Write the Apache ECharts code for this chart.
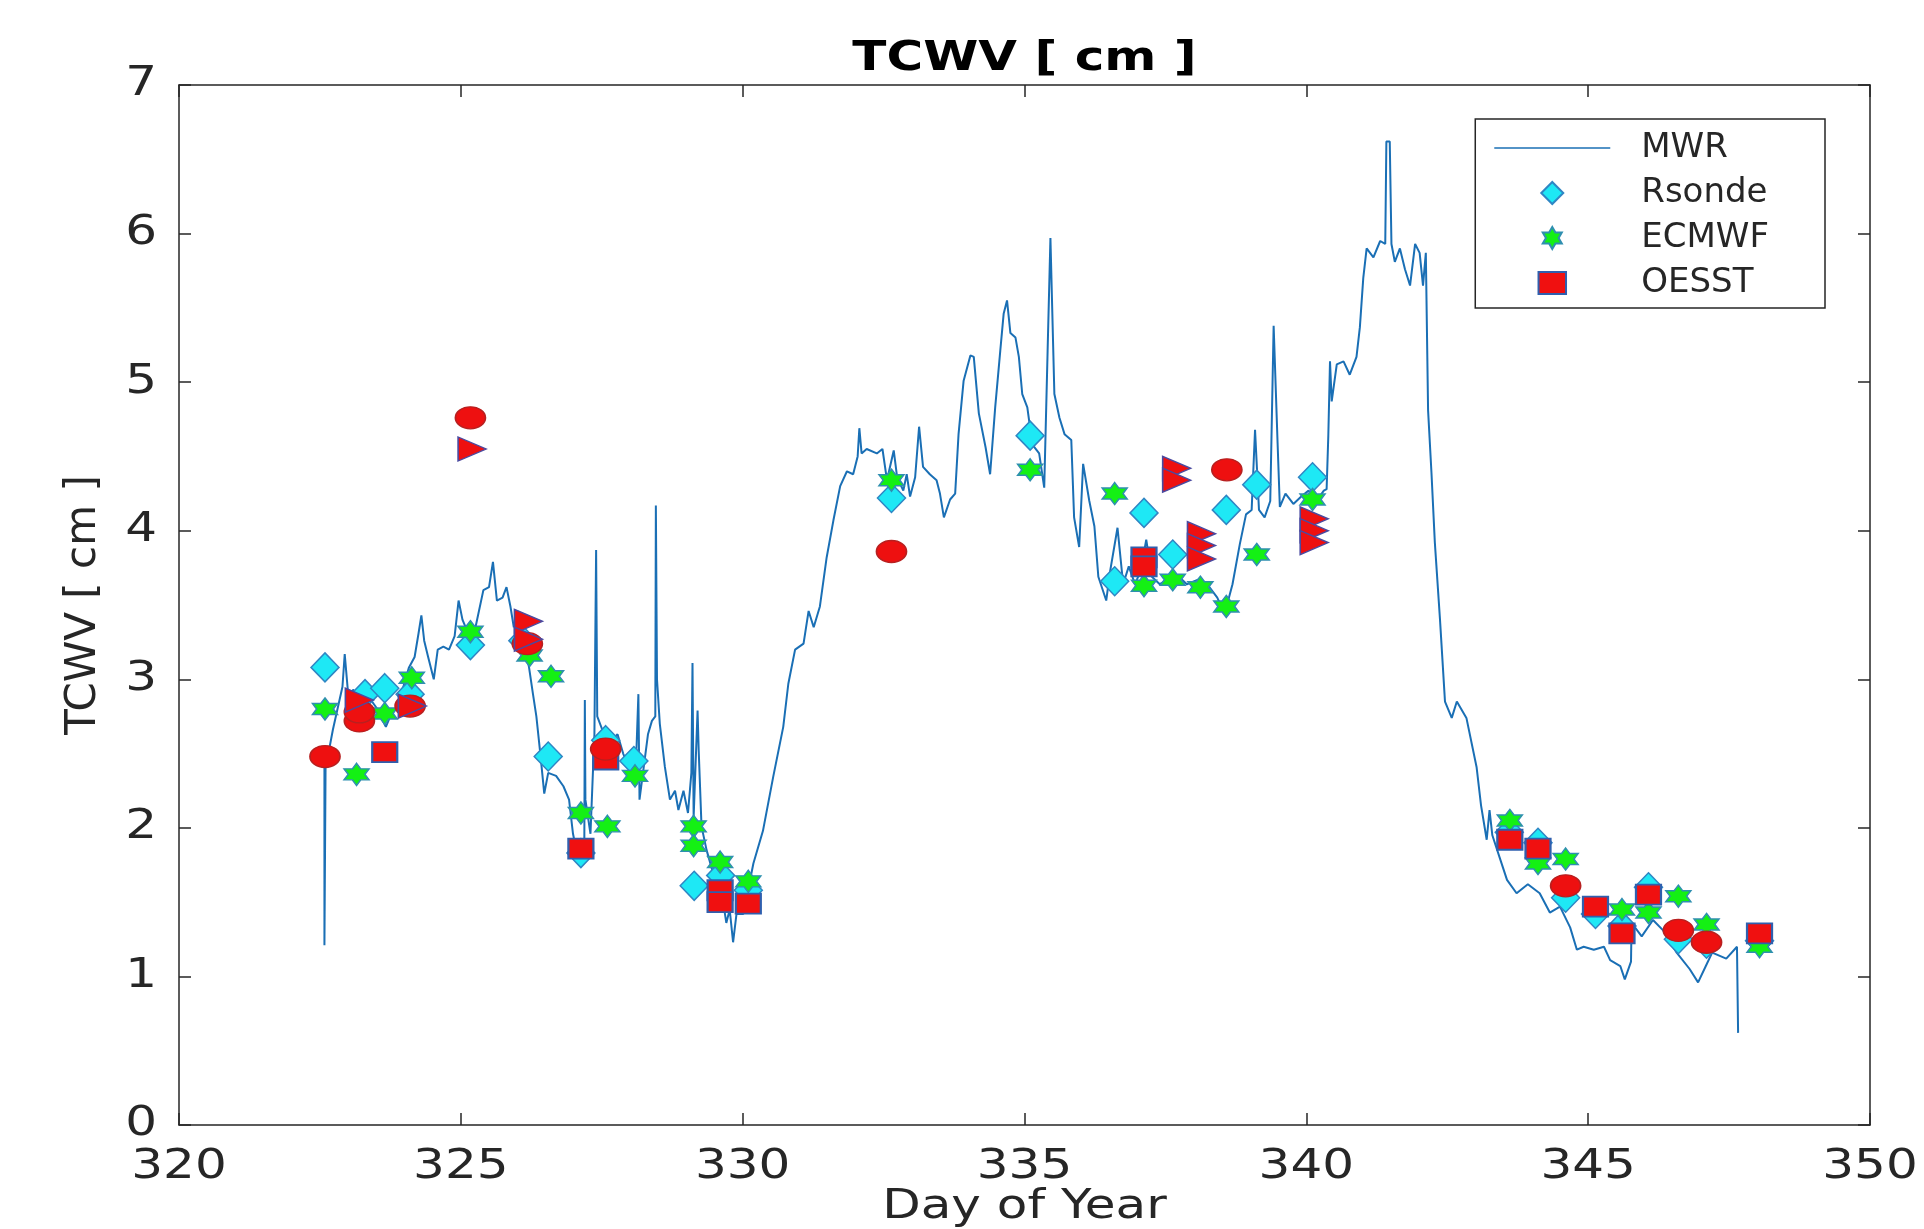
<!DOCTYPE html>
<html>
<head>
<meta charset="utf-8">
<title>TCWV</title>
<script src="https://cdn.jsdelivr.net/npm/echarts@6/dist/echarts.min.js"></script>
<style>
  html, body { margin: 0; padding: 0; background: #fff; }
  #chart { width: 1924px; height: 1229px; }
</style>
</head>
<body>
<div id="chart"></div>
<script>
// TCWV time series

const X_TICKS = [320, 325, 330, 335, 340, 345, 350];
const Y_TICKS = [0, 1, 2, 3, 4, 5, 6, 7];

// MWR [day, cm]
const MWR = [
  [322.58,2.45],[322.58,1.21],[322.60,2.40],[322.73,2.66],[322.90,2.95],[322.94,3.17],[323.01,2.86],
  [323.09,2.93],[323.23,2.86],[323.33,2.90],[323.50,2.81],[323.67,2.68],[323.77,2.77],[323.87,2.81],
  [323.98,2.95],[324.08,3.08],[324.18,3.15],[324.25,3.31],[324.30,3.43],[324.35,3.26],[324.42,3.15],
  [324.52,3.00],[324.59,3.20],[324.69,3.22],[324.79,3.20],[324.89,3.29],[324.96,3.53],[325.03,3.40],
  [325.13,3.31],[325.20,3.22],[325.26,3.35],[325.40,3.60],[325.50,3.62],[325.57,3.79],[325.64,3.53],
  [325.74,3.55],[325.81,3.62],[325.88,3.49],[325.94,3.35],[326.01,3.46],[326.11,3.28],[326.21,3.08],
  [326.28,2.90],[326.34,2.75],[326.41,2.50],[326.48,2.23],[326.55,2.37],[326.69,2.35],[326.82,2.28],
  [326.92,2.19],[326.99,1.96],[327.06,1.83],[327.13,1.78],[327.19,1.80],[327.20,2.86],[327.21,2.19],
  [327.30,1.96],[327.37,2.63],[327.40,3.87],[327.42,2.75],[327.54,2.63],[327.68,2.59],[327.78,2.63],
  [327.88,2.50],[327.98,2.41],[328.10,2.35],[328.15,2.90],[328.17,2.19],[328.32,2.63],[328.39,2.72],
  [328.45,2.75],[328.46,4.17],[328.48,3.00],[328.53,2.70],[328.62,2.41],[328.71,2.19],[328.80,2.25],
  [328.86,2.12],[328.95,2.25],[329.03,2.10],[329.09,2.37],[329.11,3.11],[329.13,2.07],[329.20,2.79],
  [329.22,2.52],[329.27,2.01],[329.36,1.85],[329.48,1.69],[329.63,1.56],[329.71,1.36],[329.77,1.45],
  [329.83,1.23],[329.89,1.42],[330.01,1.42],[330.19,1.76],[330.36,1.98],[330.54,2.34],[330.72,2.68],
  [330.81,2.97],[330.93,3.20],[331.08,3.24],[331.17,3.46],[331.26,3.35],[331.37,3.49],[331.49,3.82],
  [331.61,4.07],[331.73,4.30],[331.85,4.40],[331.96,4.38],[332.04,4.50],[332.07,4.69],[332.11,4.52],
  [332.20,4.55],[332.38,4.52],[332.48,4.55],[332.56,4.34],[332.68,4.54],[332.74,4.36],[332.85,4.27],
  [332.91,4.38],[332.97,4.23],[333.06,4.36],[333.13,4.70],[333.20,4.43],[333.32,4.38],[333.44,4.34],
  [333.50,4.25],[333.57,4.09],[333.68,4.21],[333.77,4.25],[333.83,4.65],[333.92,5.01],[334.04,5.18],
  [334.10,5.17],[334.19,4.79],[334.31,4.56],[334.39,4.38],[334.48,4.83],[334.57,5.21],[334.63,5.46],
  [334.69,5.55],[334.75,5.33],[334.84,5.30],[334.90,5.17],[334.96,4.92],[335.05,4.83],[335.14,4.58],
  [335.26,4.52],[335.35,4.29],[335.41,5.21],[335.46,5.97],[335.53,4.92],[335.62,4.76],[335.71,4.65],
  [335.83,4.61],[335.88,4.09],[335.97,3.89],[336.04,4.45],[336.15,4.20],[336.24,4.03],[336.31,3.69],
  [336.45,3.53],[336.52,3.73],[336.65,4.02],[336.75,3.64],[336.85,3.76],[336.96,3.64],[337.06,3.73],
  [337.16,3.94],[337.26,3.69],[337.40,3.64],[337.54,3.67],[337.74,3.69],[337.88,3.64],[338.08,3.67],
  [338.28,3.62],[338.42,3.55],[338.55,3.44],[338.69,3.64],[338.82,3.91],[338.93,4.11],[339.03,4.14],
  [339.09,4.68],[339.16,4.14],[339.26,4.09],[339.36,4.20],[339.42,5.38],[339.49,4.59],[339.53,4.16],
  [339.63,4.25],[339.77,4.18],[339.91,4.23],[340.04,4.27],[340.18,4.20],[340.31,4.27],[340.36,4.28],
  [340.39,4.64],[340.42,5.14],[340.45,4.87],[340.54,5.12],[340.66,5.14],[340.77,5.05],[340.89,5.17],
  [340.95,5.37],[341.01,5.70],[341.07,5.90],[341.19,5.84],[341.31,5.95],[341.40,5.93],[341.42,6.62],
  [341.48,6.62],[341.51,5.93],[341.57,5.81],[341.66,5.90],[341.75,5.76],[341.84,5.65],[341.93,5.93],
  [342.01,5.87],[342.07,5.65],[342.12,5.87],[342.16,4.81],[342.22,4.39],[342.28,3.92],[342.37,3.41],
  [342.46,2.85],[342.58,2.74],[342.67,2.85],[342.84,2.74],[343.02,2.41],[343.10,2.15],[343.20,1.92],
  [343.25,2.12],[343.30,1.95],[343.43,1.80],[343.56,1.65],[343.73,1.56],[343.93,1.62],[344.14,1.56],
  [344.32,1.43],[344.50,1.47],[344.68,1.33],[344.80,1.18],[344.92,1.20],[345.10,1.18],[345.28,1.20],
  [345.39,1.11],[345.57,1.07],[345.65,0.98],[345.76,1.10],[345.77,1.36],[345.95,1.27],[346.15,1.38],
  [346.33,1.31],[346.57,1.16],[346.80,1.05],[346.95,0.96],[347.10,1.08],[347.20,1.16],[347.45,1.12],
  [347.64,1.20],[347.66,0.62]
];

const RSONDE = [
  [322.59,3.08],[323.30,2.90],[323.65,2.94],[324.10,2.90],[325.17,3.23],[326.10,3.26],[326.55,2.48],
  [327.13,1.83],[327.57,2.59],[328.07,2.45],[329.14,1.61],[329.61,1.68],[330.10,1.58],[332.64,4.22],
  [335.10,4.64],[336.60,3.66],[337.12,4.12],[337.63,3.84],[338.58,4.14],[339.12,4.31],[340.11,4.36],
  [343.60,1.97],[344.11,1.90],[344.60,1.53],[345.13,1.42],[345.60,1.34],[346.07,1.60],[346.60,1.25],
  [347.10,1.22],[348.04,1.24]
];

const ECMWF = [
  [322.59,2.80],[323.15,2.36],[323.65,2.77],[324.13,3.01],[325.17,3.32],[326.22,3.16],[326.60,3.02],
  [327.13,2.10],[327.60,2.01],[328.09,2.35],[329.13,2.01],[329.13,1.88],[329.60,1.77],[330.10,1.64],
  [332.64,4.34],[335.10,4.41],[336.60,4.25],[337.12,3.63],[337.63,3.67],[338.12,3.62],[338.58,3.49],
  [339.12,3.84],[340.11,4.21],[343.61,2.05],[344.11,1.76],[344.60,1.79],[345.60,1.45],[346.07,1.43],
  [346.60,1.54],[347.10,1.35],[348.04,1.20]
];

const OESST = [
  [323.65,2.51],[327.13,1.86],[327.57,2.46],[329.60,1.58],[329.60,1.50],[330.10,1.49],[337.12,3.82],
  [337.12,3.76],[343.61,1.92],[344.11,1.86],[345.13,1.47],[345.60,1.29],[346.07,1.55],[348.04,1.29]
];

// unlabelled red markers
const CIRCLES = [
  [322.59,2.48],[323.20,2.72],[323.20,2.78],[324.10,2.82],[325.17,4.76],[326.18,3.24],[327.57,2.53],
  [332.64,3.86],[338.59,4.41],[344.60,1.61],[346.60,1.31],[347.10,1.23]
];

const TRIANGLES = [
  [323.20,2.86],[324.14,2.82],[325.20,4.55],[326.20,3.39],[326.20,3.27],[337.70,4.42],[337.70,4.34],
  [338.14,3.98],[338.14,3.90],[338.14,3.81],[340.14,4.08],[340.14,4.00],[340.14,3.92]
];

const INK = '#262626';
const FONT = '"DejaVu Sans", sans-serif';
const STRETCH = 1.25; // the source figure is stretched sideways
const STAR = 'path://M50 0 L64.43 25 L93.3 25 L78.87 50 L93.3 75 L64.43 75 L50 100 L35.57 75 L6.7 75 L21.13 50 L6.7 25 L35.57 25 Z';
const DIAMOND = 'path://M50 0 L100 50 L50 100 L0 50 Z';
const SQUARE = 'path://M0 0 H125 V100 H0 Z';
const TRI_RIGHT = 'path://M0 0 L100 50 L0 100 Z';
const LINE_ICON = 'path://M0 0 H200 V3 H0 Z';

function frameAxis(base, extra) {
  return Object.assign({
    type: 'value',
    axisLine: { show: true, onZero: false, lineStyle: { color: INK, width: 1.5 } },
    axisTick: { show: true, inside: true, length: 12, lineStyle: { color: INK, width: 1.5 } },
    splitLine: { show: false },
    axisLabel: { show: false },
  }, base, extra);
}

const xBase = { min: X_TICKS[0], max: X_TICKS[X_TICKS.length - 1], interval: 5 };
const yBase = { min: Y_TICKS[0], max: Y_TICKS[Y_TICKS.length - 1], interval: 1 };

const chart = echarts.init(document.getElementById('chart'), null, { renderer: 'canvas' });
chart.setOption({
  animation: false,
  backgroundColor: '#fff',
  textStyle: { fontFamily: FONT, color: INK },
  grid: { left: 179, right: 54, top: 85, bottom: 104, containLabel: false },
  legend: {
    data: [
      { name: 'MWR', icon: LINE_ICON },
      { name: 'Rsonde', icon: DIAMOND },
      { name: 'ECMWF', icon: STAR },
      { name: 'OESST', icon: SQUARE },
    ],
    orient: 'vertical',
    right: 99,
    top: 119,
    itemWidth: 116,
    itemHeight: 22,
    itemGap: 11,
    padding: [12, 56, 8, 19],
    backgroundColor: '#fff',
    borderColor: INK,
    borderWidth: 1.5,
    borderRadius: 0,
    textStyle: { fontFamily: FONT, fontSize: 34, color: INK, lineHeight: 31, padding: [0, 0, 0, 26] },
  },
  xAxis: [
    frameAxis(xBase, { position: 'bottom' }),
    frameAxis(xBase, { position: 'top' }),
  ],
  yAxis: [
    frameAxis(yBase, {
      position: 'left',
      name: 'TCWV [ cm ]',
      nameLocation: 'middle',
      nameGap: 74,
      nameTextStyle: { fontSize: 42, color: INK, fontFamily: FONT },
    }),
    frameAxis(yBase, { position: 'right' }),
  ],
  series: [
    {
      name: 'MWR', type: 'line', data: MWR, symbol: 'none', showSymbol: false,
      lineStyle: { color: '#1a6fb5', width: 2 }, itemStyle: { color: '#1a6fb5' }, z: 1,
    },
    {
      name: 'Rsonde', type: 'scatter', data: RSONDE, symbol: DIAMOND, symbolSize: [28, 29],
      itemStyle: { color: '#1ee8f5', borderColor: '#2f86c4', borderWidth: 1.5, opacity: 1 }, z: 2,
    },
    {
      name: 'ECMWF', type: 'scatter', data: ECMWF, symbol: STAR, symbolSize: [25, 22],
      itemStyle: { color: '#14f014', borderColor: '#2f8fb0', borderWidth: 1.5, opacity: 1 }, z: 3,
    },
    {
      name: 'OESST', type: 'scatter', data: OESST, symbol: SQUARE, symbolSize: [25, 20],
      itemStyle: { color: '#f01010', borderColor: '#2f5fae', borderWidth: 2, opacity: 1 }, z: 4,
    },
    {
      name: 'circles', type: 'scatter', data: CIRCLES, symbol: 'circle', symbolSize: [30, 22],
      itemStyle: { color: '#ee1010', borderColor: '#b82020', borderWidth: 1.5, opacity: 1 }, z: 5,
    },
    {
      name: 'triangles', type: 'scatter', data: TRIANGLES, symbol: TRI_RIGHT, symbolSize: [28, 24],
      itemStyle: { color: '#ee1010', borderColor: '#4a4aa0', borderWidth: 1.5, opacity: 1 }, z: 6,
    },
  ],
});

// horizontal texts are stretched like the source image; placed through the axis scales
function wideText(text, x, y, align, vAlign, size, weight) {
  return {
    type: 'text', x, y, scaleX: STRETCH, silent: true, z: 10,
    style: {
      text, fill: weight ? '#000' : INK, align, verticalAlign: vAlign,
      font: (weight || 'normal') + ' ' + size + 'px ' + FONT,
    },
  };
}
const toPxX = (v) => chart.convertToPixel({ xAxisIndex: 0 }, v);
const toPxY = (v) => chart.convertToPixel({ yAxisIndex: 0 }, v);
const plotLeft = toPxX(X_TICKS[0]);
const plotRight = toPxX(X_TICKS[X_TICKS.length - 1]);
const plotBottom = toPxY(Y_TICKS[0]);
const plotTop = toPxY(Y_TICKS[Y_TICKS.length - 1]);
const plotMid = (plotLeft + plotRight) / 2;

const texts = [];
X_TICKS.forEach((v) => texts.push(wideText(String(v), toPxX(v), plotBottom + 23, 'center', 'top', 40)));
Y_TICKS.forEach((v) => texts.push(wideText(String(v), plotLeft - 22, toPxY(v), 'right', 'middle', 40)));
texts.push(wideText('Day of Year', plotMid, plotBottom + 63, 'center', 'top', 40));
texts.push(wideText('TCWV [ cm ]', plotMid, plotTop - 45, 'center', 'top', 40, 'bold'));
chart.setOption({ graphic: texts });
</script>
</body>
</html>
